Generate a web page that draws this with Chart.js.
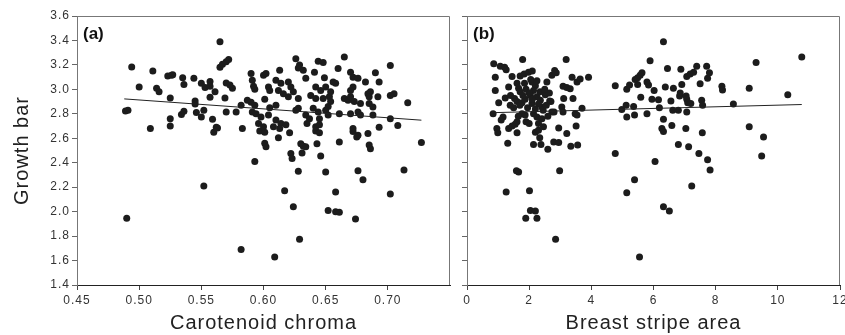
<!DOCTYPE html>
<html>
<head>
<meta charset="utf-8">
<script src="https://cdn.jsdelivr.net/npm/chart.js@4"></script>
<style>
html, body { margin: 0; padding: 0; background: #fff; }
#wrap { position: relative; width: 845px; height: 335px; }
canvas { position: absolute; top: 0; }
#chartA { left: 0; }
#chartB { left: 455px; }
</style>
</head>
<body>
<div id="wrap">
  <canvas id="chartA" width="455" height="335"></canvas>
  <canvas id="chartB" width="390" height="335"></canvas>
</div>
<script>
// ticks
const growthTicks = [1.4, 1.6, 1.8, 2.0, 2.2, 2.4, 2.6, 2.8, 3.0, 3.2, 3.4, 3.6];
const chromaTicks = [0.45, 0.50, 0.55, 0.60, 0.65, 0.70];
const chromaRange = [0.45, 0.75];
const stripeTicks = [0, 2, 4, 6, 8, 10, 12];

// (a) carotenoid chroma vs growth bar  [x, y]
const chromaPoints = [
  [0.489,2.824],[0.491,2.83],[0.490,1.945],[0.494,3.183],[0.500,3.02],[0.509,2.68],[0.511,3.15],[0.514,3.01],
  [0.516,2.98],[0.523,3.11],[0.526,3.115],[0.527,3.12],[0.525,2.93],[0.525,2.76],[0.525,2.70],[0.535,3.095],
  [0.536,3.04],[0.534,2.795],[0.536,2.82],[0.544,3.09],[0.545,2.905],[0.545,2.88],[0.546,2.81],[0.550,3.05],
  [0.553,3.015],[0.550,2.775],[0.552,2.83],[0.552,2.21],[0.557,3.065],[0.557,3.025],[0.561,2.98],[0.557,2.935],
  [0.559,2.755],[0.560,2.65],[0.562,2.69],[0.563,2.685],[0.565,3.39],[0.565,3.18],[0.567,3.205],[0.570,3.225],
  [0.572,3.245],[0.569,2.93],[0.570,3.053],[0.573,3.035],[0.575,3.01],[0.570,2.815],[0.578,2.815],[0.582,2.87],
  [0.583,2.68],[0.582,1.69],[0.587,2.91],
  [0.590,2.895],[0.593,2.87],[0.590,3.13],[0.591,3.075],[0.592,3.025],[0.593,3.0],[0.591,2.815],[0.597,2.66],
  [0.593,2.41],[0.600,3.115],[0.601,2.92],[0.601,2.65],[0.601,2.56],[0.602,2.53],[0.605,2.85],[0.609,1.63],
  [0.610,2.87],[0.612,2.605],[0.617,2.17],[0.621,2.645],[0.622,2.475],[0.623,2.435],[0.624,2.04],[0.628,2.33],
  [0.629,1.775],[0.630,2.555],[0.632,2.535],[0.634,2.53],[0.631,2.48],[0.642,2.66],[0.645,2.645],[0.643,2.555],
  [0.646,2.455],[0.650,2.325],[0.652,2.01],[0.658,2.16],[0.658,2.0],[0.661,1.995],[0.672,2.655],[0.674,1.94],
  [0.675,2.61],[0.676,2.335],[0.680,2.26],[0.685,2.545],[0.686,2.515],[0.702,2.145],[0.713,2.34],[0.716,2.89],
  [0.727,2.565],[0.629,3.2],[0.648,3.22],[0.635,2.72],[0.642,2.695],
  [0.626,3.25],[0.644,3.23],[0.628,3.175],[0.632,3.156],[0.613,3.156],[0.602,3.13],[0.641,3.14],[0.634,3.09],
  [0.610,3.075],[0.614,3.05],[0.620,3.06],[0.622,3.02],[0.604,3.02],[0.605,2.99],[0.649,3.095],[0.642,3.02],
  [0.646,2.99],[0.650,3.02],[0.612,2.99],[0.616,2.965],[0.620,2.94],[0.624,2.98],[0.628,2.925],[0.628,2.845],
  [0.638,2.95],[0.642,2.925],[0.648,2.925],[0.653,2.94],[0.652,2.86],[0.594,2.80],[0.598,2.775],[0.604,2.79],
  [0.640,2.845],[0.644,2.815],[0.634,2.79],[0.637,2.76],[0.626,2.83],[0.596,2.72],[0.600,2.695],[0.610,2.75],
  [0.614,2.72],[0.608,2.695],[0.613,2.68],[0.618,2.71],[0.645,2.76],[0.645,2.71],
  [0.665,3.265],[0.660,3.17],[0.702,3.195],[0.670,3.14],[0.672,3.10],[0.676,3.09],[0.690,3.135],[0.656,3.06],
  [0.658,3.05],[0.682,3.06],[0.693,3.06],[0.672,3.02],[0.670,2.99],[0.654,2.98],[0.684,2.965],[0.686,2.98],
  [0.685,2.94],[0.692,2.94],[0.702,2.95],[0.705,2.965],[0.665,2.925],[0.668,2.91],[0.670,2.94],[0.673,2.90],
  [0.678,2.885],[0.685,2.885],[0.688,2.855],[0.654,2.90],[0.650,2.83],[0.652,2.79],[0.661,2.80],[0.670,2.80],
  [0.676,2.815],[0.678,2.79],[0.688,2.79],[0.702,2.76],[0.693,2.69],[0.708,2.705],[0.672,2.68],[0.676,2.625],
  [0.684,2.64],[0.661,2.57]
];
const chromaFit = [[0.488, 2.922], [0.727, 2.748]];

// (b) breast stripe area vs growth bar  [x, y]
const stripePoints = [
  [0.86,3.21],[0.91,3.10],[0.91,2.99],[0.84,2.80],[0.96,2.68],[0.99,2.645],[1.02,2.89],[1.07,3.19],
  [1.21,3.18],[1.26,3.16],[1.16,2.775],[1.10,2.75],[1.23,2.93],[1.31,2.56],[1.26,2.16],[1.34,3.02],
  [1.39,2.87],[1.34,2.68],[1.45,2.70],[1.45,3.105],[1.55,2.715],[1.61,2.735],[1.53,2.925],[1.61,2.90],
  [1.61,2.645],[1.59,2.335],[1.66,2.325],[1.61,3.05],[1.66,3.01],[1.71,2.98],[1.71,3.11],[1.84,3.125],
  [1.98,3.14],[2.10,3.15],[1.79,3.245],[1.77,2.89],[1.87,2.92],[1.77,2.80],[1.87,2.79],[1.90,2.735],
  [1.89,1.945],[2.01,2.17],[2.04,2.01],[2.20,2.005],[2.25,1.945],[2.09,3.06],[2.20,3.03],[2.14,2.99],
  [2.04,2.95],[2.25,2.94],[2.09,2.885],[2.14,2.80],[2.25,2.775],[2.14,2.55],[2.20,2.65],[2.30,2.665],
  [2.34,2.605],[2.36,2.91],[2.41,2.855],[2.41,2.76],[2.38,2.55],[2.46,2.695],[2.52,2.955],[2.57,3.06],
  [2.60,2.51],[2.66,2.905],[2.73,2.815],[2.80,2.815],[2.73,3.115],[2.82,3.155],[2.87,3.135],[2.79,2.57],
  [2.95,2.565],[2.85,1.775],[2.95,2.685],[2.98,2.335],[3.05,2.855],[3.09,2.815],[3.09,3.025],[3.21,3.015],
  [3.11,2.925],[3.19,3.245],[3.21,2.64],[3.32,3.005],[3.34,2.535],[3.38,3.10],[3.41,2.925],[3.48,2.80],
  [3.54,2.79],[3.51,2.70],[3.54,3.06],[3.56,2.545],[3.64,3.085],[3.70,2.845],[3.91,3.10],
  [1.90,3.00],[2.00,2.97],[2.10,2.92],[1.80,2.95],[1.95,2.85],[2.30,2.88],[2.45,2.83],[2.20,2.84],
  [1.70,2.87],[2.05,3.08],[2.35,2.98],[2.55,2.87],[1.50,2.85],[2.65,2.97],[2.00,2.72],[2.30,2.72],
  [2.60,2.78],[1.65,2.78],[2.50,3.00],[1.85,3.05],[2.25,3.07],[1.40,2.95],[2.70,2.90],
  [4.77,3.03],[4.77,2.475],[4.98,2.835],[5.12,2.87],[5.14,2.775],[5.14,3.0],[5.23,3.035],[5.14,2.155],
  [5.36,2.86],[5.39,2.79],[5.39,2.26],[5.41,3.08],[5.49,3.095],[5.57,3.115],[5.63,3.135],[5.49,3.04],
  [5.55,1.63],[5.59,2.935],[5.79,2.80],[5.79,3.06],[5.84,3.035],[5.89,3.235],[5.95,2.92],[6.02,2.99],
  [6.05,2.41],[6.16,2.915],[6.19,2.85],[6.27,2.68],[6.32,2.655],[6.32,2.755],[6.32,3.39],[6.32,2.04],
  [6.51,2.005],[6.38,3.02],[6.45,3.17],[6.56,2.905],[6.59,2.705],[6.62,2.83],[6.64,3.01],[6.80,2.83],
  [6.80,2.55],[6.84,2.945],[6.86,2.97],[6.88,3.165],[6.91,3.04],[7.04,2.68],[7.05,2.945],[7.07,2.92],
  [7.10,2.89],[7.07,2.815],[7.07,3.105],[7.18,3.125],[7.29,3.14],[7.13,2.53],[7.20,2.885],[7.23,2.21],
  [7.39,3.19],[7.46,2.475],[7.50,3.045],[7.55,2.91],[7.58,2.87],[7.57,2.645],[7.71,3.19],[7.74,3.09],
  [7.80,3.135],[7.74,2.425],[7.82,2.34],[8.20,3.025],[8.22,2.995],[8.57,2.88],[9.08,3.01],[9.08,2.695],
  [9.30,3.22],[9.48,2.455],[9.54,2.61],[10.32,2.955],[10.77,3.265]
];
const stripeFit = [[0.91, 2.81], [10.77, 2.876]];

const FONT = "'Liberation Sans', Arial, sans-serif";

// the original lettering is a bit spread out
const spacingPlugin = {
  id: 'spacing',
  beforeUpdate(chart) { chart.ctx.letterSpacing = '1px'; },
  beforeDraw(chart) { chart.ctx.letterSpacing = '1px'; }
};

// frame on top/right + panel letter
const framePlugin = {
  id: 'frame',
  afterDraw(chart, args, opts) {
    const ctx = chart.ctx;
    const a = chart.chartArea;
    ctx.save();
    ctx.letterSpacing = '0px';
    ctx.strokeStyle = '#777';
    ctx.lineWidth = 1;
    ctx.beginPath();
    ctx.moveTo(a.left, a.top + 0.5);
    ctx.lineTo(a.right - 0.5, a.top + 0.5);
    ctx.lineTo(a.right - 0.5, a.bottom);
    ctx.stroke();
    ctx.fillStyle = '#111';
    ctx.font = 'bold 17px ' + FONT;
    ctx.textBaseline = 'alphabetic';
    ctx.fillText(opts.tag, a.left + 6, a.top + 23);
    ctx.restore();
  }
};

function makePanel(id, points, fit, xTicks, xMin, xMax, digits, xTitle, tag, yWidth, showY) {
  const toXY = p => ({ x: p[0], y: p[1] });
  return new Chart(document.getElementById(id), {
    type: 'scatter',
    data: {
      datasets: [
        {
          data: fit.map(toXY),
          showLine: true,
          borderColor: '#222',
          borderWidth: 1,
          pointRadius: 0
        },
        {
          data: points.map(toXY),
          backgroundColor: '#1c1c1c',
          borderWidth: 0,
          pointRadius: 3.5,
          pointHoverRadius: 3.5
        }
      ]
    },
    options: {
      responsive: false,
      animation: false,
      devicePixelRatio: 1,
      layout: { padding: { top: 16, right: 5, left: 0, bottom: 0 } },
      plugins: {
        legend: { display: false },
        tooltip: { enabled: false },
        frame: { tag: tag }
      },
      scales: {
        x: {
          type: 'linear',
          min: xMin,
          max: xMax,
          afterBuildTicks: s => { s.ticks = xTicks.map(v => ({ value: v })); },
          afterFit: s => { s.height = 50; s.paddingLeft = 0; s.paddingRight = 0; },
          ticks: {
            color: '#333',
            font: { size: 12, family: FONT },
            padding: 3,
            maxRotation: 0,
            autoSkip: false,
            callback: v => v.toFixed(digits)
          },
          grid: { drawOnChartArea: false, drawTicks: true, tickLength: 5, color: '#444' },
          border: { color: '#222', width: 1 },
          title: {
            display: true,
            text: xTitle,
            color: '#222',
            font: { size: 20, family: FONT, lineHeight: 1.2 },
            padding: { top: 0, bottom: 0 }
          }
        },
        y: {
          type: 'linear',
          min: growthTicks[0],
          max: growthTicks[growthTicks.length - 1],
          afterBuildTicks: s => { s.ticks = growthTicks.map(v => ({ value: v })); },
          afterFit: s => { s.width = yWidth; s.paddingTop = 0; s.paddingBottom = 0; },
          ticks: {
            display: showY,
            color: '#333',
            font: { size: 12, family: FONT },
            padding: 2,
            callback: v => v.toFixed(1)
          },
          grid: { drawOnChartArea: false, drawTicks: true, tickLength: 5, color: '#666' },
          border: { color: '#777', width: 1 },
          title: {
            display: showY,
            text: 'Growth bar',
            color: '#222',
            font: { size: 20, family: FONT, lineHeight: 1.2 },
            padding: { top: 10, bottom: 0 }
          }
        }
      }
    },
    plugins: [spacingPlugin, framePlugin]
  });
}

makePanel('chartA', chromaPoints, chromaFit, chromaTicks, chromaRange[0], chromaRange[1], 2,
  'Carotenoid chroma', '(a)', 77, true);
makePanel('chartB', stripePoints, stripeFit, stripeTicks, stripeTicks[0], stripeTicks[stripeTicks.length - 1], 0,
  'Breast stripe area', '(b)', 12, false);
</script>
</body>
</html>
